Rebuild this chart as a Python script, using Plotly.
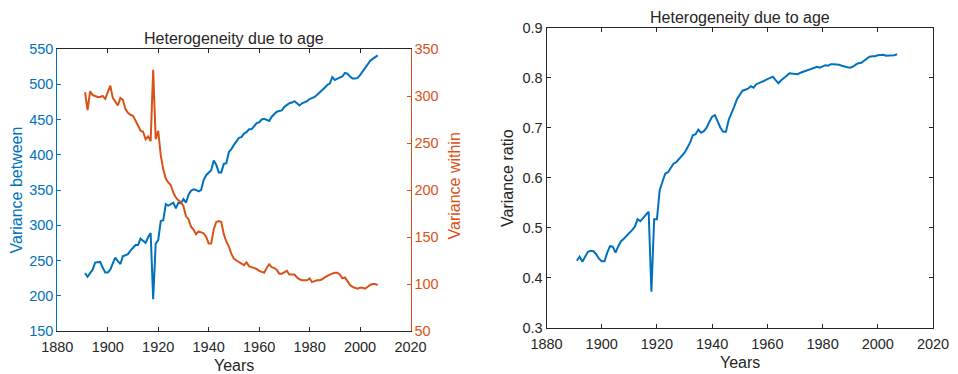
import plotly.graph_objects as go

years = list(range(1891, 2008))

variance_between = [
    232, 227, 232, 237, 247, 248, 248, 240, 233, 233,   # 1891-1900
    237, 246, 254, 249, 245, 256, 257, 259, 264, 268,   # 1901-1910
    272, 272, 281, 278, 275, 283, 289, 195, 274, 279,   # 1911-1920
    306, 307, 330, 328, 330, 332, 324, 332, 331, 337,   # 1921-1930
    332, 343, 349, 351, 350, 348, 350, 364, 371, 375,   # 1931-1940
    378, 392, 386, 375, 375, 387, 388, 404, 408, 414,   # 1941-1950
    419, 424, 425, 430, 432, 436, 436, 440, 445, 446,   # 1951-1960
    450, 451, 450, 448, 454, 458, 461, 462, 463, 468,   # 1961-1970
    471, 473, 474, 476, 473, 470, 473, 474, 476, 479,   # 1971-1980
    480, 482, 485, 488, 491, 495, 499, 501, 510, 506,   # 1981-1990
    508, 510, 511, 516, 515, 511, 508, 508, 509, 513,   # 1991-2000
    518, 523, 527, 533, 536, 538, 541,                  # 2001-2007
]

variance_within = [
    304, 285, 305, 301, 300, 299, 299, 300, 297, 304,   # 1891-1900
    311, 298, 294, 290, 298, 296, 286, 282, 280, 279,   # 1901-1910
    274, 268, 263, 262, 254, 257, 252, 328, 254, 263,   # 1911-1920
    237, 222, 212, 208, 205, 197, 192, 189, 187, 183,   # 1921-1930
    172, 169, 161, 158, 153, 156, 155, 154, 150, 143,   # 1931-1940
    143, 158, 166, 167, 166, 153, 145, 140, 132, 127,   # 1941-1950
    125, 123, 122, 120, 123, 119, 118, 117, 116, 114,   # 1951-1960
    113, 112, 117, 121, 118, 117, 115, 111, 111, 113,   # 1961-1970
    114, 110, 110, 110, 107, 105, 104, 104, 104, 106,   # 1971-1980
    102, 103, 104, 104, 105, 107, 109, 110, 111, 112,   # 1981-1990
    112, 110, 106, 107, 103, 99, 97, 96, 95, 96,        # 1991-2000
    96, 95, 97, 99, 100, 100, 99,                       # 2001-2007
]

variance_ratio = [
    0.434, 0.442, 0.432, 0.442, 0.452, 0.454, 0.453, 0.447, 0.438, 0.433,  # 1891-1900
    0.433, 0.450, 0.463, 0.462, 0.450, 0.463, 0.473, 0.478, 0.483, 0.488,  # 1901-1910
    0.495, 0.502, 0.517, 0.513, 0.520, 0.527, 0.532, 0.372, 0.517, 0.517,  # 1911-1920
    0.575, 0.592, 0.608, 0.611, 0.620, 0.628, 0.631, 0.637, 0.642, 0.650,  # 1921-1930
    0.660, 0.670, 0.685, 0.687, 0.696, 0.690, 0.693, 0.700, 0.712, 0.722,  # 1931-1940
    0.725, 0.712, 0.700, 0.692, 0.692, 0.716, 0.728, 0.742, 0.757, 0.767,  # 1941-1950
    0.774, 0.776, 0.778, 0.783, 0.780, 0.787, 0.789, 0.791, 0.794, 0.797,  # 1951-1960
    0.800, 0.802, 0.795, 0.789, 0.795, 0.799, 0.804, 0.809, 0.808, 0.807,  # 1961-1970
    0.807, 0.810, 0.812, 0.813, 0.815, 0.817, 0.820, 0.822, 0.820, 0.822,  # 1971-1980
    0.825, 0.824, 0.827, 0.827, 0.827, 0.826, 0.824, 0.822, 0.821, 0.820,  # 1981-1990
    0.822, 0.826, 0.829, 0.830, 0.834, 0.838, 0.842, 0.843, 0.843, 0.845,  # 1991-2000
    0.845, 0.846, 0.844, 0.844, 0.844, 0.845, 0.847,                       # 2001-2007
]

x_ticks = [1880, 1900, 1920, 1940, 1960, 1980, 2000, 2020]
between_ticks = [150, 200, 250, 300, 350, 400, 450, 500, 550]
within_ticks = [50, 100, 150, 200, 250, 300, 350]
ratio_ticks = [0.3, 0.4, 0.5, 0.6, 0.7, 0.8, 0.9]

title_text = "Heterogeneity due to age"

W, H = 958, 374
BLUE = "#0072BD"
ORANGE = "#D95319"
DARK = "#262626"
FONT = "Liberation Sans, Arial, Helvetica, sans-serif"
TICK_SIZE = 14.5
LABEL_SIZE = 16


def px(x):
    return x / W


def py(y):
    return 1 - y / H


# plot-area pixel boxes (left, top, right, bottom)
L = (57.3, 49.0, 410.5, 331.0)
R = (546.5, 27.7, 933.0, 327.7)

fig = go.Figure()

fig.add_trace(go.Scatter(x=years, y=variance_between, mode="lines",
                         line=dict(color=BLUE, width=2), xaxis="x", yaxis="y",
                         showlegend=False, hoverinfo="x+y"))
fig.add_trace(go.Scatter(x=years, y=variance_within, mode="lines",
                         line=dict(color=ORANGE, width=2), xaxis="x", yaxis="y2",
                         showlegend=False, hoverinfo="x+y"))
fig.add_trace(go.Scatter(x=years, y=variance_ratio, mode="lines",
                         line=dict(color=BLUE, width=2), xaxis="x2", yaxis="y3",
                         showlegend=False, hoverinfo="x+y"))

common_x = dict(range=[1880, 2020], tickvals=x_ticks, ticks="inside", ticklen=4,
                tickcolor=DARK, showline=True, linecolor=DARK, linewidth=1,
                mirror="ticks", showgrid=False, zeroline=False, automargin=False,
                ticklabelstandoff=3,
                tickfont=dict(family=FONT, size=TICK_SIZE, color=DARK))

fig.update_layout(
    width=W, height=H,
    margin=dict(l=0, r=0, t=0, b=0, autoexpand=False),
    paper_bgcolor="white", plot_bgcolor="white",
    xaxis=dict(domain=[px(L[0]), px(L[2])], anchor="y", **common_x),
    yaxis=dict(domain=[py(L[3]), py(L[1])], anchor="x", range=[150, 550],
               tickvals=between_ticks, ticks="inside", ticklen=4, tickcolor=BLUE,
               showline=True, linecolor=BLUE, linewidth=1, mirror=False,
               showgrid=False, zeroline=False, automargin=False,
               tickfont=dict(family=FONT, size=TICK_SIZE, color=BLUE)),
    yaxis2=dict(overlaying="y", side="right", anchor="x", range=[50, 350],
                tickvals=within_ticks, ticks="inside", ticklen=4, tickcolor=ORANGE,
                showline=True, linecolor=ORANGE, linewidth=1,
                showgrid=False, zeroline=False, automargin=False,
                tickfont=dict(family=FONT, size=TICK_SIZE, color=ORANGE)),
    xaxis2=dict(domain=[px(R[0]), px(R[2])], anchor="y3", **common_x),
    yaxis3=dict(domain=[py(R[3]), py(R[1])], anchor="x2", range=[0.3, 0.9],
                tickvals=ratio_ticks, tickformat=".1f", ticks="inside", ticklen=4,
                tickcolor=DARK, showline=True, linecolor=DARK, linewidth=1,
                mirror="ticks", showgrid=False, zeroline=False, automargin=False,
                tickfont=dict(family=FONT, size=TICK_SIZE, color=DARK)),
)

annotations = [
    dict(text=title_text, x=px((L[0] + L[2]) / 2), y=py(38.5), color=DARK),
    dict(text=title_text, x=px((R[0] + R[2]) / 2), y=py(17.5), color=DARK),
    dict(text="Years", x=px((L[0] + L[2]) / 2), y=py(365), color=DARK),
    dict(text="Years", x=px((R[0] + R[2]) / 2), y=py(362), color=DARK),
    dict(text="Variance between", x=px(15.5), y=py(190), color=BLUE, angle=-90),
    dict(text="Variance within", x=px(453.5), y=py(186), color=ORANGE, angle=-90),
    dict(text="Variance ratio", x=px(507), y=py(178), color=DARK, angle=-90),
]
for a in annotations:
    fig.add_annotation(
        text=a["text"], x=a["x"], y=a["y"], xref="paper", yref="paper",
        xanchor="center", yanchor="middle", showarrow=False,
        textangle=a.get("angle", 0),
        font=dict(family=FONT, size=LABEL_SIZE, color=a["color"]),
    )

fig.write_html("out.html")
